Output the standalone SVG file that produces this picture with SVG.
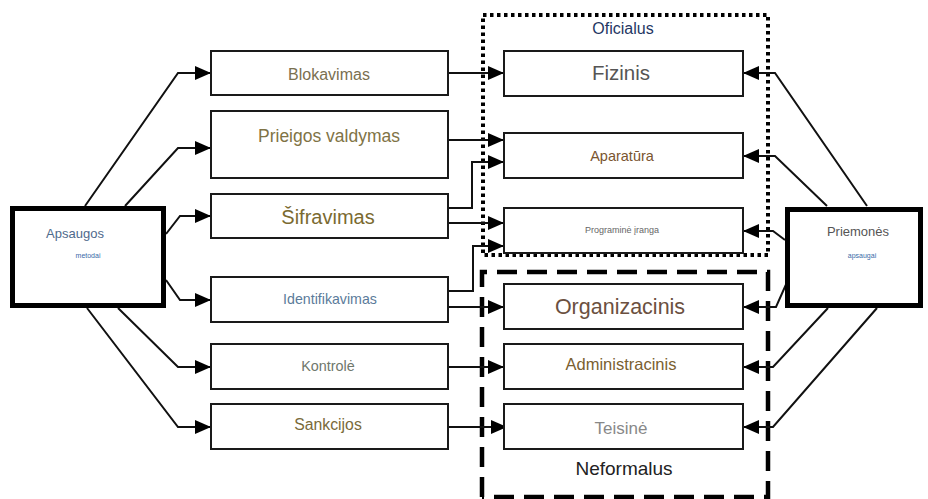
<svg xmlns="http://www.w3.org/2000/svg" width="928" height="499" viewBox="0 0 928 499">
  <style>
    .box { fill: #fff; stroke: #1a1a1a; stroke-width: 2; }
    .hub { fill: #fff; stroke: #000; stroke-width: 5; }
    .line { fill: none; stroke: #111; stroke-width: 2; marker-end: url(#arrow); }
    text { font-family: "Liberation Sans", Arial, sans-serif; text-anchor: middle; }
    .dotted { fill: none; stroke: #000; stroke-width: 4; stroke-dasharray: 3.5 3.5; }
    .dashed { fill: none; stroke: #000; stroke-width: 4.5; stroke-dasharray: 20 10; }
  </style>
  <defs>
    <marker id="arrow" markerUnits="userSpaceOnUse" markerWidth="17" markerHeight="14" refX="16" refY="7" orient="auto">
      <path d="M0,0 L16,7 L0,14 Z" fill="#000"/>
    </marker>
  </defs>

  <rect width="928" height="499" fill="#fff"/>

  <!-- grouping frames -->
  <g id="oficialus">
    <rect class="dotted" x="483" y="15" width="285" height="240"/>
    <text x="623" y="34" font-size="16" fill="#1f3763">Oficialus</text>
  </g>
  <g id="neformalus">
    <path class="dashed" d="M482,497 L482,272 L768,272 L768,497 L482,497"/>
    <text x="624" y="475" font-size="19" fill="#222">Neformalus</text>
  </g>

  <!-- connectors -->
  <g id="connectors">
    <!-- Apsaugos metodai to the methods -->
    <polyline class="line" points="85,206 178,73 211,73"/>
    <polyline class="line" points="125,206 178,148 211,148"/>
    <polyline class="line" points="166,234 180,216 211,216"/>
    <polyline class="line" points="166,280 180,300 211,300"/>
    <polyline class="line" points="118,308 178,367 211,367"/>
    <polyline class="line" points="87,308 178,427 211,427"/>

    <!-- methods to the measures -->
    <polyline class="line" points="448,73 504,73"/>
    <polyline class="line" points="448,140 504,140"/>
    <polyline class="line" points="448,208 472,208 472,162 504,162"/>
    <polyline class="line" points="448,223 504,223"/>
    <polyline class="line" points="448,291 473,291 473,246 504,246"/>
    <polyline class="line" points="448,307 504,307"/>
    <polyline class="line" points="448,367 504,367"/>
    <polyline class="line" points="446,427 507,427"/>

    <!-- Priemonės apsaugai to the measures -->
    <polyline class="line" points="867,206 775,73 743,73"/>
    <polyline class="line" points="827,206 775,156 743,156"/>
    <polyline class="line" points="785,240 773,231 743,231"/>
    <polyline class="line" points="788,280 776,307 743,307"/>
    <polyline class="line" points="828,308 773,367 743,367"/>
    <polyline class="line" points="877,308 773,427 743,427"/>
  </g>

  <!-- hubs -->
  <g id="apsaugos">
    <rect class="hub" x="12.5" y="208.5" width="151" height="97"/>
    <text x="75" y="238" font-size="13" fill="#4e6a8c">Apsaugos</text>
    <text x="88" y="258" font-size="7" fill="#3a6aa8">metodai</text>
  </g>
  <g id="priemones">
    <rect class="hub" x="787.5" y="209.5" width="133" height="96"/>
    <text x="858" y="236" font-size="13" fill="#555">Priemonės</text>
    <text x="862" y="258" font-size="7" fill="#3a6aa8">apsaugai</text>
  </g>

  <!-- methods -->
  <g id="blokavimas">
    <rect class="box" x="211" y="51" width="237" height="44"/>
    <text x="329" y="80" font-size="16" fill="#7a7050">Blokavimas</text>
  </g>
  <g id="prieigos-valdymas">
    <rect class="box" x="211" y="111" width="237" height="67"/>
    <text x="329" y="142" font-size="17.5" fill="#7f7345">Prieigos valdymas</text>
  </g>
  <g id="sifravimas">
    <rect class="box" x="211" y="194" width="237" height="44"/>
    <text x="328" y="224" font-size="20" fill="#7a6a30">Šifravimas</text>
  </g>
  <g id="identifikavimas">
    <rect class="box" x="211" y="277" width="237" height="45"/>
    <text x="330" y="304" font-size="14.2" fill="#5b7b9a">Identifikavimas</text>
  </g>
  <g id="kontrole">
    <rect class="box" x="211" y="344" width="237" height="45"/>
    <text x="328" y="371" font-size="14.4" fill="#6f776c">Kontrolė</text>
  </g>
  <g id="sankcijos">
    <rect class="box" x="211" y="404" width="237" height="45"/>
    <text x="328" y="430" font-size="15.8" fill="#7a6a3a">Sankcijos</text>
  </g>

  <!-- measures -->
  <g id="fizinis">
    <rect class="box" x="504" y="51" width="239" height="45"/>
    <text x="621" y="80" font-size="20.5" fill="#555">Fizinis</text>
  </g>
  <g id="aparatura">
    <rect class="box" x="504" y="133" width="239" height="45"/>
    <text x="622" y="161" font-size="14.5" fill="#7a5530">Aparatūra</text>
  </g>
  <g id="programine-iranga">
    <rect class="box" x="504" y="208" width="239" height="45"/>
    <text x="622" y="233" font-size="9" fill="#666">Programinė įranga</text>
  </g>
  <g id="organizacinis">
    <rect class="box" x="504" y="284" width="239" height="45"/>
    <text x="620" y="314" font-size="21.5" fill="#6b5040">Organizacinis</text>
  </g>
  <g id="administracinis">
    <rect class="box" x="504" y="344" width="239" height="45"/>
    <text x="621" y="370" font-size="16.5" fill="#7a6030">Administracinis</text>
  </g>
  <g id="teisine">
    <rect class="box" x="504" y="404" width="239" height="45"/>
    <text x="621" y="434" font-size="17" fill="#888">Teisinė</text>
  </g>
</svg>
